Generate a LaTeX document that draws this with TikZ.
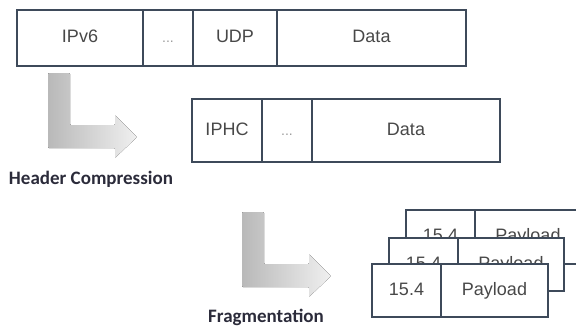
\documentclass[tikz,border=0pt]{standalone}
\usepackage{fontspec}
\setmainfont{Liberation Sans}
\newfontfamily\labelfont{Carlito}
\usetikzlibrary{positioning}

\definecolor{boxline}{HTML}{3E4A5A}
\definecolor{boxtext}{HTML}{484848}
\definecolor{dotgray}{HTML}{9C9C9C}
\definecolor{labeltext}{HTML}{2B2B3A}

\tikzset{
  cell/.style={draw=boxline, line width=2.4pt, fill=white, outer sep=0pt,
    inner sep=0pt, text=boxtext, font=\fontsize{18}{18}\selectfont,
    text height=13pt, text depth=4pt},
  dotcell/.style={cell, text=dotgray, font=\fontsize{14}{14}\selectfont},
  steplabel/.style={anchor=base, text=labeltext,
    font=\labelfont\bfseries\fontsize{19}{19}\selectfont},
  bentarrow/.style={left color=gray!55, right color=gray!12, draw=none,
    rounded corners=1pt},
}

\begin{document}
\begin{tikzpicture}[x=1pt, y=-1pt]
    \useasboundingbox (0,0) rectangle (576,327);
    \clip (0,0) rectangle (576,327);

    % uncompressed packet
    \node[cell, minimum width=126pt, minimum height=56pt, anchor=north west] (ipv6) at (17,10) {IPv6};
    \node[dotcell, minimum width=50pt, minimum height=56pt, right=0pt of ipv6] (dotsa) {...};
    \node[cell, minimum width=84pt, minimum height=56pt, right=0pt of dotsa] (udp) {UDP};
    \node[cell, minimum width=189pt, minimum height=56pt, right=0pt of udp] (dataa) {Data};

    % compressed packet
    \node[cell, minimum width=70pt, minimum height=63pt, anchor=north west] (iphc) at (192,99) {IPHC};
    \node[dotcell, minimum width=50pt, minimum height=63pt, right=0pt of iphc] (dotsb) {...};
    \node[cell, minimum width=188pt, minimum height=63pt, right=0pt of dotsb] (datab) {Data};

    % fragments, back to front
    \node[cell, minimum width=69pt, minimum height=54pt, anchor=north west] (hdrc) at (406,210) {15.4};
    \node[cell, minimum width=106pt, minimum height=54pt, right=0pt of hdrc] (payc) {Payload};
    \node[cell, minimum width=69pt, minimum height=53pt, anchor=north west] (hdrb) at (389,238) {15.4};
    \node[cell, minimum width=106pt, minimum height=53pt, right=0pt of hdrb] (payb) {Payload};
    \node[cell, minimum width=69pt, minimum height=53pt, anchor=north west] (hdra) at (372,264) {15.4};
    \node[cell, minimum width=107pt, minimum height=53pt, right=0pt of hdra] (paya) {Payload};

    % bent arrows
    \foreach \dx/\dy in {0/0, 194/139}
        \fill[bentarrow, shift={(\dx,\dy)}] (48,73) -- (70,73) -- (70,125) -- (115,125)
            -- (115,115) -- (137,137) -- (115,158) -- (115,148) -- (48,148) -- cycle;

    \node[steplabel] (hclabel) at (91,184) {Header Compression};
    \node[steplabel] (fraglabel) at (266,322) {Fragmentation};
\end{tikzpicture}
\end{document}
